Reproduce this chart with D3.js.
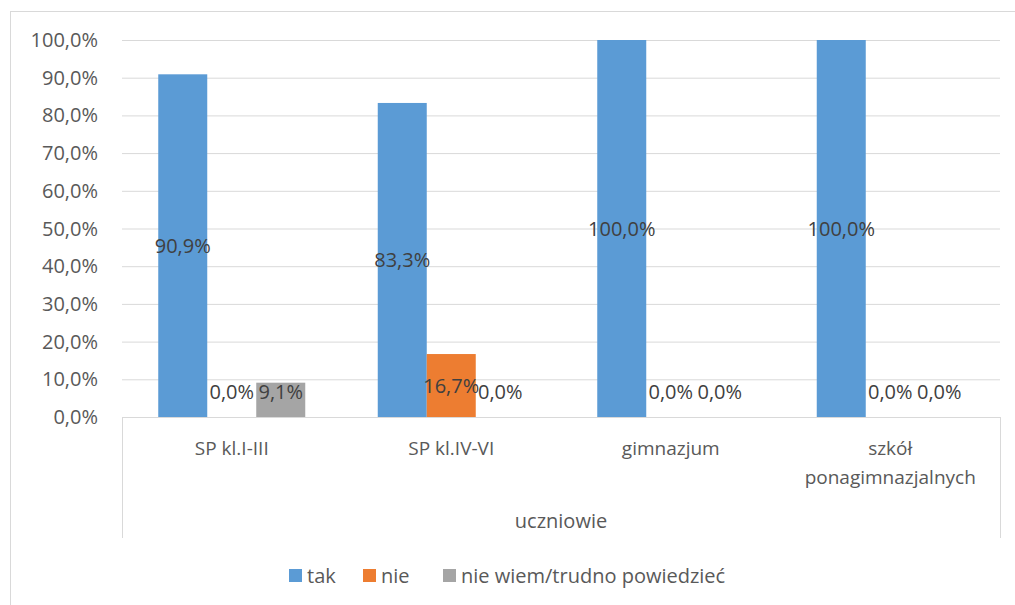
<!DOCTYPE html>
<html>
<head>
<meta charset="utf-8">
<script src="https://cdn.jsdelivr.net/npm/d3@7"></script>
<style>
  body { margin: 0; background: #fff; }
  text { font-family: "Open Sans", sans-serif; }
</style>
</head>
<body>
<div id="plot"></div>
<script>
var categories = ["SP kl.I-III", "SP kl.IV-VI", "gimnazjum", "szkół ponagimnazjalnych"];
var categoryLines = [["SP kl.I-III"], ["SP kl.IV-VI"], ["gimnazjum"], ["szkół", "ponagimnazjalnych"]];
var groupLabel = "uczniowie";
var seriesNames = ["tak", "nie", "nie wiem/trudno powiedzieć"];
var seriesColors = ["#5b9bd5", "#ed7d31", "#a5a5a5"];
var tak = [90.9, 83.3, 100, 100];
var nie = [0, 16.7, 0, 0];
var nieWiem = [9.1, 0, 0, 0];
var yTicks = [0, 10, 20, 30, 40, 50, 60, 70, 80, 90, 100];

var series = [tak, nie, nieWiem];

var W = 1015, H = 605;
var svg = d3.select("#plot").append("svg")
    .attr("width", W)
    .attr("height", H);

var view = { left: 122, right: 1000, top: 40, bottom: 417 };

// chart border
svg.append("rect")
    .attr("x", 10.5).attr("y", 11.5)
    .attr("width", 1010).attr("height", 600)
    .style("fill", "none")
    .style("stroke", "#d9d9d9");

var x0 = d3.scaleBand()
    .domain(categories)
    .range([view.left, view.right])
    .paddingInner(0)
    .paddingOuter(0);

var x1 = d3.scaleBand()
    .domain(d3.range(series.length))
    .range([36.25, x0.bandwidth() - 36.25]);

var y = d3.scaleLinear()
    .domain([0, 100])
    .range([view.bottom, view.top]);

var fmt = function(v){ return v.toFixed(1).replace(".", ",") + "%"; };

// gridlines
svg.append("g").selectAll("line")
    .data(yTicks.filter(function(d){ return d > 0; }))
    .enter().append("line")
    .attr("x1", view.left).attr("x2", view.right)
    .attr("y1", function(d){ return y(d) + 0.5; })
    .attr("y2", function(d){ return y(d) + 0.5; })
    .style("stroke", "#d9d9d9")
    .style("stroke-width", 1);

// y axis labels
svg.append("g").selectAll("text")
    .data(yTicks)
    .enter().append("text")
    .attr("x", 98)
    .attr("y", function(d){ return y(d); })
    .attr("dy", "0.35em")
    .attr("text-anchor", "end")
    .style("font-size", "20px")
    .style("fill", "#595959")
    .text(fmt);

// bars
var groups = svg.append("g").selectAll("g")
    .data(categories)
    .enter().append("g")
    .attr("transform", function(d){ return "translate(" + x0(d) + ",0)"; });

groups.selectAll("rect")
    .data(function(d, i){ return series.map(function(s, j){ return { s: j, v: s[i] }; }); })
    .enter().append("rect")
    .attr("x", function(d){ return x1(d.s); })
    .attr("width", x1.bandwidth())
    .attr("y", function(d){ return y(d.v); })
    .attr("height", function(d){ return y(0) - y(d.v); })
    .style("fill", function(d){ return seriesColors[d.s]; });

groups.selectAll("text")
    .data(function(d, i){ return series.map(function(s, j){ return { s: j, v: s[i] }; }); })
    .enter().append("text")
    .attr("x", function(d){ return x1(d.s) + x1.bandwidth() / 2; })
    .attr("y", function(d){ return Math.min(y(d.v / 2), y(0) - 25); })
    .attr("dy", "0.35em")
    .attr("text-anchor", "middle")
    .style("font-size", "20px")
    .style("fill", "#404040")
    .text(function(d){ return fmt(d.v); });

// x axis line
svg.append("line")
    .attr("x1", view.left).attr("x2", view.right)
    .attr("y1", view.bottom + 0.5).attr("y2", view.bottom + 0.5)
    .style("stroke", "#d9d9d9");

// group boundary lines
svg.append("g").selectAll("line")
    .data([view.left, view.right])
    .enter().append("line")
    .attr("x1", function(d){ return d + 0.5; })
    .attr("x2", function(d){ return d + 0.5; })
    .attr("y1", view.bottom).attr("y2", 538)
    .style("stroke", "#d9d9d9");

// category labels
svg.append("g").selectAll("text")
    .data(categories)
    .enter().append("text")
    .attr("text-anchor", "middle")
    .style("font-size", "19px")
    .style("fill", "#595959")
    .each(function(d, i){
        var t = d3.select(this);
        categoryLines[i].forEach(function(line, k){
            t.append("tspan")
                .attr("x", x0(d) + x0.bandwidth() / 2)
                .attr("y", 455 + k * 29)
                .text(line);
        });
    });

svg.append("text")
    .attr("x", (view.left + view.right) / 2)
    .attr("y", 528)
    .attr("text-anchor", "middle")
    .style("font-size", "20px")
    .style("fill", "#595959")
    .text(groupLabel);

// legend
var legendX = [289, 363, 443];
var legend = svg.append("g").selectAll("g")
    .data(seriesNames)
    .enter().append("g")
    .attr("transform", function(d, i){ return "translate(" + legendX[i] + ",569)"; });
legend.append("rect")
    .attr("width", 13).attr("height", 13)
    .style("fill", function(d, i){ return seriesColors[i]; });
legend.append("text")
    .attr("x", 18).attr("y", 6.5)
    .attr("dy", "0.35em")
    .style("font-size", "20px")
    .style("fill", "#595959")
    .text(function(d){ return d; });
</script>
</body>
</html>
